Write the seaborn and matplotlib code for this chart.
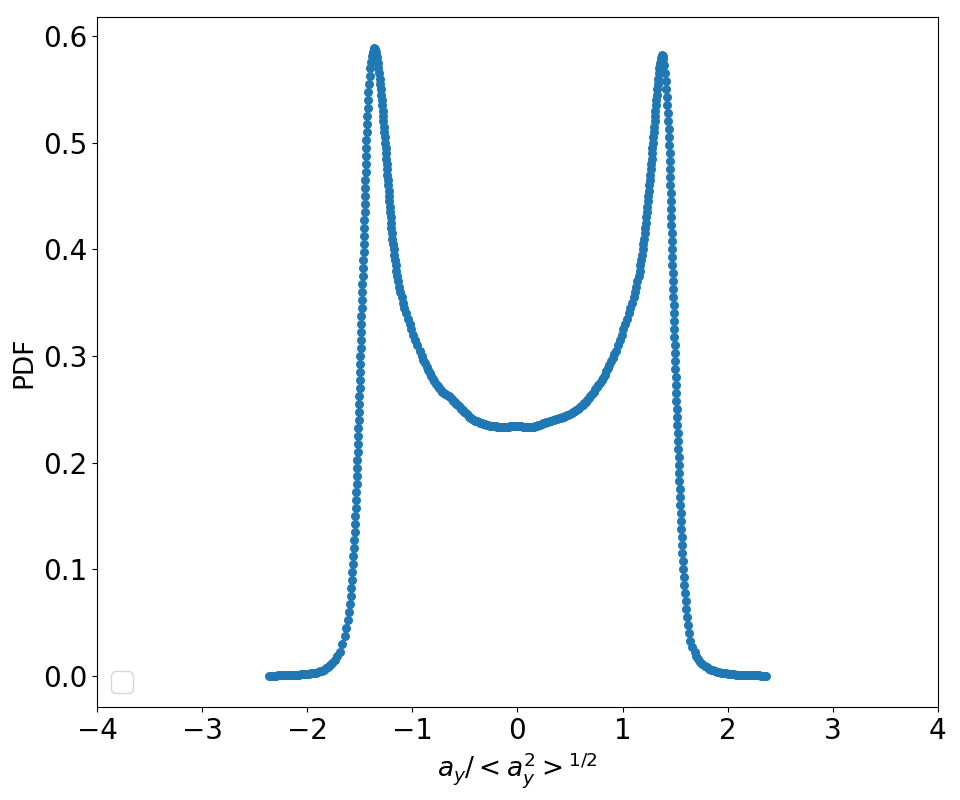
import numpy as np
import pandas as pd
import matplotlib
matplotlib.use("Agg")
import matplotlib.pyplot as plt
import seaborn as sns
import warnings

warnings.filterwarnings('ignore')

# ==========================================
# DATA
# ==========================================

# left tail
left_tail_x = [-2.36, -2.34, -2.32, -2.30, -2.28, -2.26, -2.24, -2.22, -2.20, -2.18,
               -2.16, -2.14, -2.12, -2.10, -2.08, -2.06, -2.04, -2.02, -2.00, -1.98,
               -1.96, -1.94, -1.92, -1.90, -1.88, -1.86, -1.84, -1.82, -1.80, -1.78,
               -1.76, -1.74, -1.72]
left_tail_y = [0.0000, 0.0001, 0.0002, 0.0002, 0.0003, 0.0003, 0.0004, 0.0005, 0.0006, 0.0007,
               0.0008, 0.0009, 0.0010, 0.0011, 0.0012, 0.0013, 0.0015, 0.0017, 0.0019, 0.0021,
               0.0024, 0.0027, 0.0031, 0.0036, 0.0042, 0.0049, 0.0058, 0.0070, 0.0085, 0.0100,
               0.0120, 0.0150, 0.0185]

# left outer flank (rising to the left peak)
left_outer_x = [-1.692, -1.665, -1.644, -1.627, -1.613, -1.601, -1.593, -1.586, -1.580, -1.575,
                -1.570, -1.566, -1.562, -1.558, -1.554, -1.550, -1.547, -1.543, -1.540, -1.537,
                -1.534, -1.531, -1.528, -1.526, -1.523, -1.521, -1.519, -1.516, -1.514, -1.511,
                -1.509, -1.506, -1.504, -1.502, -1.500, -1.498, -1.496, -1.494, -1.492, -1.490,
                -1.488, -1.486, -1.484, -1.481, -1.479, -1.477, -1.475, -1.472, -1.469, -1.467,
                -1.464, -1.461, -1.459, -1.457, -1.455, -1.454, -1.452, -1.450, -1.448, -1.446,
                -1.444, -1.442, -1.440, -1.438, -1.436, -1.434, -1.431, -1.428, -1.425, -1.421,
                -1.417, -1.412, -1.406, -1.399, -1.392, -1.385, -1.377, -1.369, -1.362]
left_outer_y = [0.0225, 0.0300, 0.0375, 0.0450, 0.0525, 0.0600, 0.0675, 0.0750, 0.0825, 0.0900,
                0.0975, 0.1050, 0.1125, 0.1200, 0.1275, 0.1350, 0.1425, 0.1500, 0.1575, 0.1650,
                0.1725, 0.1800, 0.1875, 0.1950, 0.2025, 0.2100, 0.2175, 0.2250, 0.2325, 0.2400,
                0.2475, 0.2550, 0.2625, 0.2700, 0.2775, 0.2850, 0.2925, 0.3000, 0.3075, 0.3150,
                0.3225, 0.3300, 0.3375, 0.3450, 0.3525, 0.3600, 0.3675, 0.3750, 0.3825, 0.3900,
                0.3975, 0.4050, 0.4125, 0.4200, 0.4275, 0.4350, 0.4425, 0.4500, 0.4575, 0.4650,
                0.4725, 0.4800, 0.4875, 0.4950, 0.5025, 0.5100, 0.5175, 0.5250, 0.5325, 0.5400,
                0.5475, 0.5550, 0.5625, 0.5700, 0.5760, 0.5810, 0.5850, 0.5875, 0.5885]

# left inner side (falling from the peak towards the centre)
left_inner_x = [-1.356, -1.350, -1.338, -1.329, -1.322, -1.316, -1.310, -1.305, -1.300, -1.295,
                -1.291, -1.287, -1.283, -1.279, -1.275, -1.271, -1.267, -1.263, -1.259, -1.255,
                -1.252, -1.248, -1.245, -1.241, -1.237, -1.233, -1.230, -1.226, -1.222, -1.218,
                -1.214, -1.210, -1.206, -1.203, -1.199, -1.195, -1.190, -1.185, -1.179, -1.173,
                -1.166, -1.159, -1.151, -1.142, -1.133, -1.123, -1.113, -1.102, -1.090, -1.075,
                -1.058, -1.042, -1.025, -1.008, -0.990, -0.971, -0.952, -0.931, -0.910]
left_inner_y = [0.588, 0.585, 0.580, 0.575, 0.570, 0.565, 0.560, 0.555, 0.550, 0.545,
                0.540, 0.535, 0.530, 0.525, 0.520, 0.515, 0.510, 0.505, 0.500, 0.495,
                0.490, 0.485, 0.480, 0.475, 0.470, 0.465, 0.460, 0.455, 0.450, 0.445,
                0.440, 0.435, 0.430, 0.425, 0.420, 0.415, 0.410, 0.405, 0.400, 0.395,
                0.390, 0.385, 0.380, 0.375, 0.370, 0.365, 0.360, 0.355, 0.350, 0.345,
                0.340, 0.335, 0.330, 0.325, 0.320, 0.315, 0.310, 0.305, 0.300]

# left half of the centre plateau
left_mid_x = [-0.895, -0.880, -0.865, -0.850, -0.835, -0.820, -0.805, -0.790, -0.775, -0.760,
              -0.745, -0.730, -0.715, -0.700, -0.685, -0.670, -0.655, -0.640, -0.625, -0.610,
              -0.595, -0.580, -0.565, -0.550, -0.535, -0.520, -0.505, -0.490, -0.475, -0.460,
              -0.445, -0.430, -0.415, -0.400, -0.385, -0.370, -0.355, -0.340, -0.325, -0.310,
              -0.295, -0.280, -0.265, -0.250, -0.235, -0.220, -0.205, -0.190, -0.175, -0.160,
              -0.145, -0.130, -0.115, -0.100, -0.085, -0.070, -0.055, -0.040, -0.025, -0.010]
left_mid_y = [0.2965, 0.2930, 0.2900, 0.2870, 0.2840, 0.2810, 0.2785, 0.2760, 0.2740, 0.2720,
              0.2700, 0.2680, 0.2665, 0.2650, 0.2640, 0.2630, 0.2620, 0.2610, 0.2595, 0.2580,
              0.2565, 0.2550, 0.2535, 0.2520, 0.2505, 0.2490, 0.2475, 0.2460, 0.2445, 0.2430,
              0.2420, 0.2410, 0.2400, 0.2390, 0.2385, 0.2380, 0.2375, 0.2370, 0.2365, 0.2360,
              0.2355, 0.2350, 0.2347, 0.2345, 0.2342, 0.2340, 0.2338, 0.2336, 0.2335, 0.2335,
              0.2335, 0.2335, 0.2335, 0.2336, 0.2337, 0.2338, 0.2339, 0.2340, 0.2340, 0.2340]

# right half of the centre plateau
right_mid_x = [0.005, 0.020, 0.035, 0.050, 0.065, 0.080, 0.095, 0.110, 0.125, 0.140,
               0.155, 0.170, 0.185, 0.200, 0.215, 0.230, 0.245, 0.260, 0.275, 0.290,
               0.305, 0.320, 0.335, 0.350, 0.365, 0.380, 0.395, 0.410, 0.425, 0.440,
               0.455, 0.470, 0.485, 0.500, 0.515, 0.530, 0.545, 0.560, 0.575, 0.590,
               0.605, 0.620, 0.635, 0.650, 0.665, 0.680, 0.695, 0.710, 0.725, 0.740,
               0.755, 0.770, 0.785, 0.800, 0.815, 0.830, 0.845, 0.860, 0.875, 0.890,
               0.905, 0.920, 0.935]
right_mid_y = [0.2342, 0.2340, 0.2338, 0.2335, 0.2332, 0.2330, 0.2330, 0.2330, 0.2331, 0.2332,
               0.2335, 0.2338, 0.2343, 0.2348, 0.2354, 0.2360, 0.2366, 0.2372, 0.2378, 0.2383,
               0.2388, 0.2393, 0.2398, 0.2402, 0.2406, 0.2410, 0.2415, 0.2420, 0.2425, 0.2430,
               0.2436, 0.2442, 0.2449, 0.2456, 0.2464, 0.2473, 0.2483, 0.2493, 0.2504, 0.2515,
               0.2527, 0.2540, 0.2555, 0.2570, 0.2587, 0.2605, 0.2625, 0.2645, 0.2665, 0.2685,
               0.2705, 0.2725, 0.2747, 0.2770, 0.2797, 0.2825, 0.2855, 0.2885, 0.2917, 0.2950,
               0.2982, 0.3015, 0.3048]

# right inner side (rising to the right peak)
right_inner_x = [0.952, 0.971, 0.990, 1.008, 1.025, 1.042, 1.058, 1.075, 1.092, 1.105,
                 1.118, 1.130, 1.142, 1.152, 1.162, 1.170, 1.178, 1.185, 1.192, 1.199,
                 1.205, 1.211, 1.216, 1.221, 1.226, 1.231, 1.236, 1.241, 1.245, 1.250,
                 1.254, 1.259, 1.263, 1.268, 1.272, 1.276, 1.280, 1.284, 1.288, 1.292,
                 1.296, 1.300, 1.304, 1.308, 1.312, 1.317, 1.321, 1.326, 1.330, 1.335,
                 1.340, 1.345, 1.350, 1.357, 1.363, 1.372]
right_inner_y = [0.310, 0.315, 0.320, 0.325, 0.330, 0.335, 0.340, 0.345, 0.350, 0.355,
                 0.360, 0.365, 0.370, 0.375, 0.380, 0.385, 0.390, 0.395, 0.400, 0.405,
                 0.410, 0.415, 0.420, 0.425, 0.430, 0.435, 0.440, 0.445, 0.450, 0.455,
                 0.460, 0.465, 0.470, 0.475, 0.480, 0.485, 0.490, 0.495, 0.500, 0.505,
                 0.510, 0.515, 0.520, 0.525, 0.530, 0.535, 0.540, 0.545, 0.550, 0.555,
                 0.560, 0.565, 0.570, 0.575, 0.579, 0.582]

# right outer flank (falling from the right peak)
right_outer_x = [1.381, 1.389, 1.398, 1.405, 1.411, 1.416, 1.421, 1.426, 1.430, 1.434,
                 1.438, 1.442, 1.445, 1.447, 1.449, 1.452, 1.454, 1.456, 1.458, 1.460,
                 1.461, 1.463, 1.465, 1.467, 1.469, 1.471, 1.473, 1.475, 1.476, 1.478,
                 1.481, 1.483, 1.485, 1.487, 1.490, 1.492, 1.494, 1.496, 1.499, 1.501,
                 1.503, 1.505, 1.508, 1.510, 1.513, 1.515, 1.518, 1.521, 1.524, 1.527,
                 1.530, 1.533, 1.536, 1.538, 1.541, 1.544, 1.547, 1.550, 1.553, 1.556,
                 1.559, 1.563, 1.566, 1.570, 1.574, 1.578, 1.583, 1.588, 1.593, 1.599,
                 1.605, 1.612, 1.620, 1.631, 1.645, 1.662, 1.685]
right_outer_y = [0.5810, 0.5780, 0.5730, 0.5655, 0.5580, 0.5505, 0.5430, 0.5355, 0.5280, 0.5205,
                 0.5130, 0.5055, 0.4980, 0.4905, 0.4830, 0.4755, 0.4680, 0.4605, 0.4530, 0.4455,
                 0.4380, 0.4305, 0.4230, 0.4155, 0.4080, 0.4005, 0.3930, 0.3855, 0.3780, 0.3705,
                 0.3630, 0.3555, 0.3480, 0.3405, 0.3330, 0.3255, 0.3180, 0.3105, 0.3030, 0.2955,
                 0.2880, 0.2805, 0.2730, 0.2655, 0.2580, 0.2505, 0.2430, 0.2355, 0.2280, 0.2205,
                 0.2130, 0.2055, 0.1980, 0.1905, 0.1830, 0.1755, 0.1680, 0.1605, 0.1530, 0.1455,
                 0.1380, 0.1305, 0.1230, 0.1155, 0.1080, 0.1005, 0.0930, 0.0855, 0.0780, 0.0705,
                 0.0630, 0.0555, 0.0480, 0.0405, 0.0330, 0.0270, 0.0220]

# right tail
right_tail_x = [1.70, 1.72, 1.74, 1.76, 1.78, 1.80, 1.82, 1.84, 1.86, 1.88,
                1.90, 1.92, 1.94, 1.96, 1.98, 2.00, 2.02, 2.04, 2.06, 2.08,
                2.10, 2.12, 2.14, 2.16, 2.18, 2.20, 2.22, 2.24, 2.26, 2.28,
                2.30, 2.32, 2.34, 2.36]
right_tail_y = [0.0190, 0.0160, 0.0130, 0.0108, 0.0092, 0.0078, 0.0068, 0.0059, 0.0052, 0.0045,
                0.0039, 0.0034, 0.0030, 0.0027, 0.0024, 0.0021, 0.0018, 0.0016, 0.0014, 0.0012,
                0.0011, 0.0010, 0.0009, 0.0008, 0.0007, 0.0006, 0.0005, 0.0004, 0.0004, 0.0003,
                0.0003, 0.0002, 0.0001, 0.0000]

df = pd.DataFrame({
    "x": left_tail_x + left_outer_x + left_inner_x + left_mid_x
         + right_mid_x + right_inner_x + right_outer_x + right_tail_x,
    "y": left_tail_y + left_outer_y + left_inner_y + left_mid_y
         + right_mid_y + right_inner_y + right_outer_y + right_tail_y,
})

# ==========================================
# PLOT
# ==========================================

plt.rcParams['font.size'] = 20

fig, ax = plt.subplots(figsize=(9.6, 8), dpi=100)
fig.subplots_adjust(left=0.101, right=0.977, top=0.979, bottom=0.116)

sns.scatterplot(
    data=df,
    x="x",
    y="y",
    s=42,
    color="#1f77b4",
    linewidth=0,
    ax=ax
)

ax.set_xlim(-4, 4)
ax.set_xlabel(r"$a_y/<a_y^2>^{1/2}$", fontsize=19)
ax.set_ylabel("PDF", fontsize=19)
ax.legend(loc="lower left")

plt.savefig("out.png", dpi=100)
